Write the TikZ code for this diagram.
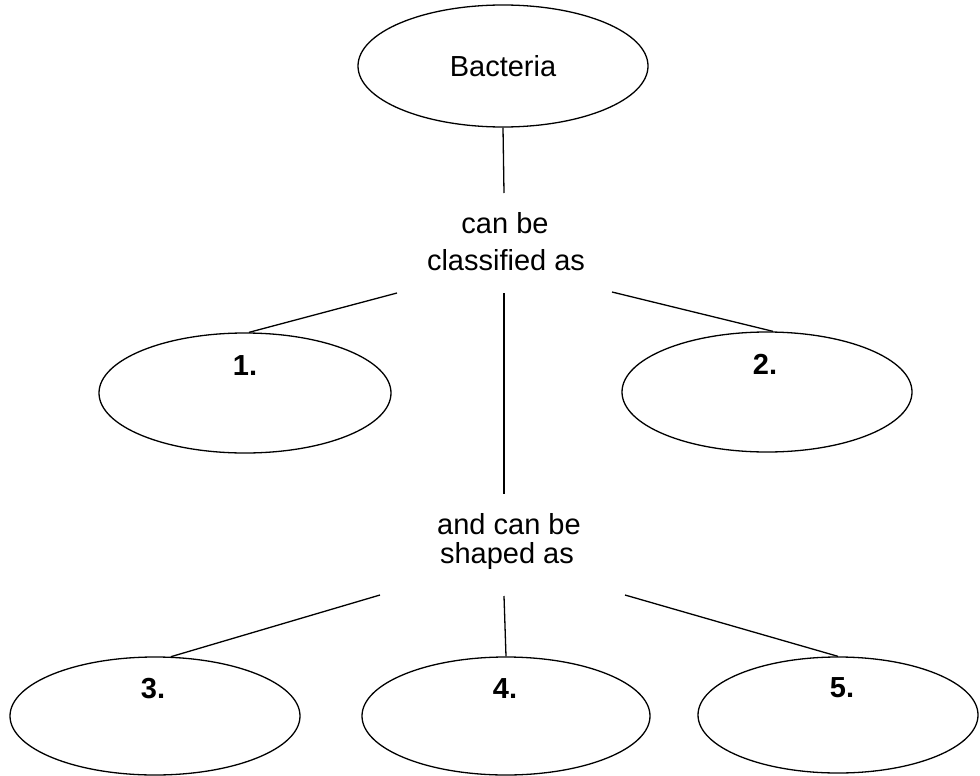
\documentclass[tikz,border=0pt]{standalone}
\usepackage{fontspec}
\setmainfont{Liberation Sans}
\usetikzlibrary{shapes.geometric}
\begin{document}
\begin{tikzpicture}[x=1pt,y=-1pt,
  oval/.style={draw, ellipse, inner sep=0pt, line width=1.3pt, font=\fontsize{29}{35}\selectfont},
  conn/.style={line width=1.3pt},
  txt/.style={font=\fontsize{29}{35}\selectfont, inner sep=0pt, anchor=base},
  num/.style={font=\fontsize{29}{35}\selectfont\bfseries, inner sep=0pt, anchor=base}]
\useasboundingbox (0,0) rectangle (980,776);
% ellipses
\node[oval, minimum width=290pt, minimum height=122pt] (bact) at (503,66) {Bacteria};
\node[oval, minimum width=292pt, minimum height=120pt] (e1) at (245,393) {};
\node[oval, minimum width=290pt, minimum height=120pt] (e2) at (767,392) {};
\node[oval, minimum width=290pt, minimum height=118pt] (e3) at (155,716) {};
\node[oval, minimum width=288pt, minimum height=118pt] (e4) at (506,716) {};
\node[oval, minimum width=280pt, minimum height=116pt] (e5) at (838,715) {};
% numbers
\node[num] (n1) at (245,375) {1.};
\node[num] (n2) at (765,374) {2.};
\node[num] (n3) at (153,698) {3.};
\node[num] (n4) at (505,698) {4.};
\node[num] (n5) at (842,697) {5.};
% linking phrases
\node[txt] (t1a) at (505,233) {can be};
\node[txt] (t1b) at (506,270) {classified as};
\node[txt] (t2a) at (509,534) {and can be};
\node[txt] (t2b) at (507,563) {shaped as};
% connector ends near the phrases
\coordinate (c1in) at (504,193);
\coordinate (c1l) at (397,293);
\coordinate (c1m) at (504,293);
\coordinate (c1r) at (612,292);
\coordinate (c2in) at (504,494);
\coordinate (c2l) at (380,595);
\coordinate (c2m) at (504,596);
\coordinate (c2r) at (625,595);
% connectors
\draw[conn] (bact.south) -- (c1in);
\draw[conn] (c1l) -- ([xshift=4pt]e1.north);
\draw[conn] (c1r) -- ([xshift=6pt]e2.north);
\draw[conn] (c1m) -- (c2in);
\draw[conn] (c2l) -- (e3.75);
\draw[conn] (c2m) -- (e4.north);
\draw[conn] (c2r) -- (e5.north);
\end{tikzpicture}
\end{document}
